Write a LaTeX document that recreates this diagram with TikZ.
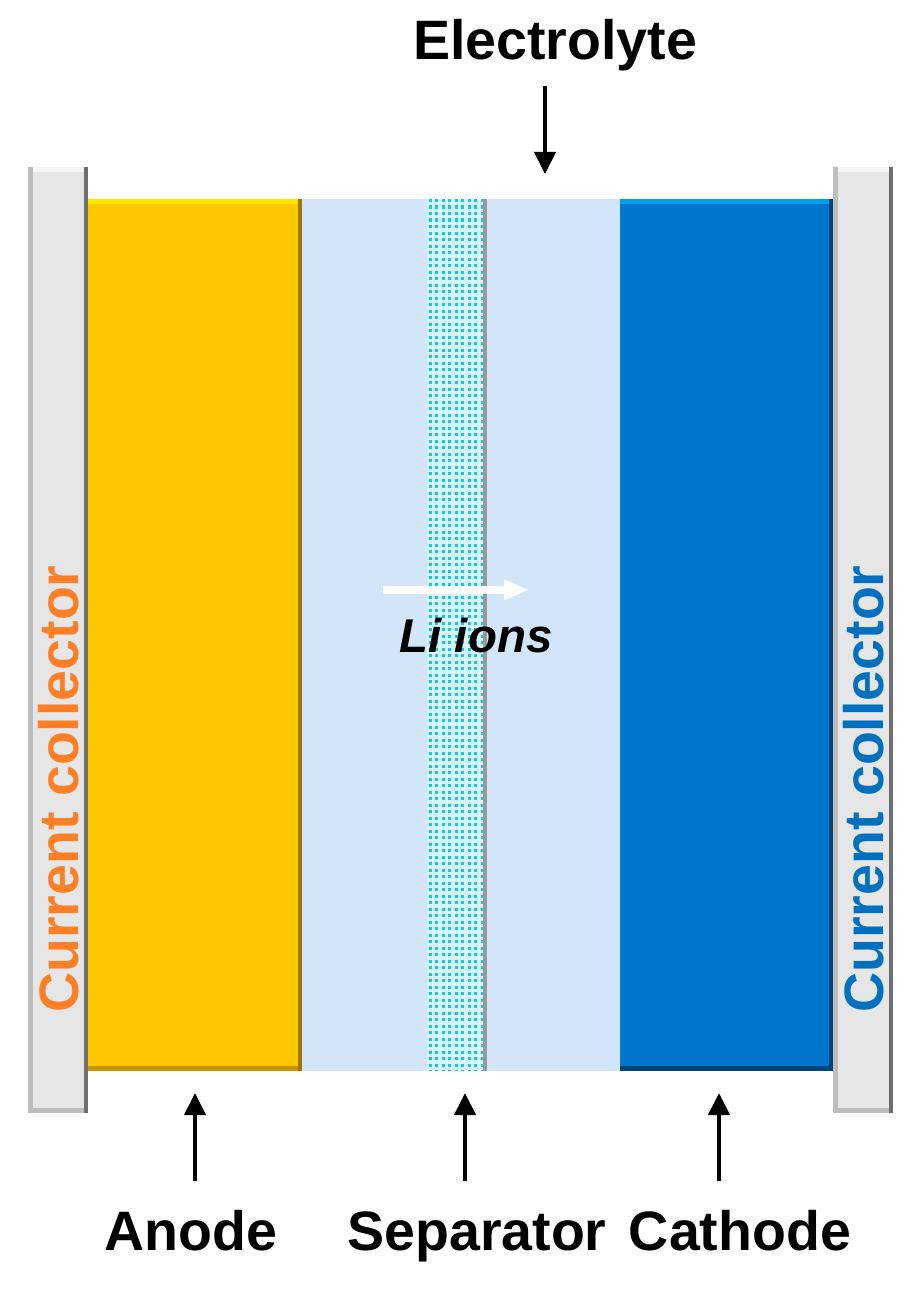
\documentclass[tikz,border=0pt]{standalone}
\usepackage{fontspec}
\setmainfont{Liberation Sans}
\usetikzlibrary{arrows.meta}
\definecolor{collfill}{HTML}{E6E6E6}
\definecolor{collleft}{HTML}{BDBDBD}
\definecolor{collright}{HTML}{6E6E6E}
\definecolor{anodefill}{HTML}{FFC800}
\definecolor{anodetop}{HTML}{FFE800}
\definecolor{anodedark}{HTML}{C89200}
\definecolor{elyte}{HTML}{D3E5F9}
\definecolor{sepbg}{HTML}{D8F4FC}
\definecolor{sepdot}{HTML}{10C8F0}
\definecolor{cathfill}{HTML}{0077CC}
\definecolor{cathtop}{HTML}{00A0EE}
\definecolor{cathdark}{HTML}{00457A}
\definecolor{orangetxt}{HTML}{FF7F27}
\definecolor{bluetxt}{HTML}{0070C0}
\tikzset{
  lbl/.style={font=\fontsize{31.6}{36}\selectfont\bfseries, text=black, inner sep=0pt},
  colltxt/.style={font=\fontsize{31.6}{36}\selectfont\bfseries, inner sep=0pt, rotate=90},
  blackarrow/.style={line width=2.3pt, -{Triangle[width=0.42cm,length=0.44cm]}},
  whitearrow/.style={white, line width=4pt, -{Triangle[width=0.38cm,length=0.5cm]}},
}
\begin{document}
\begin{tikzpicture}[x=0.02cm,y=-0.02cm]
\useasboundingbox (0,0) rectangle (920,1290);
% left current collector
\fill[collfill] (28,167) rectangle (88,1113);
\fill[collleft] (28,167) rectangle (33,1113);
\fill[collright] (84,167) rectangle (88,1113);
\fill[white!92!gray] (33,167) rectangle (84,172);
\fill[collleft] (33,1108) rectangle (84,1113);
% right current collector
\fill[collfill] (833,167) rectangle (893,1113);
\fill[collleft] (833,167) rectangle (838,1113);
\fill[collright] (889,167) rectangle (893,1113);
\fill[white!92!gray] (838,167) rectangle (889,172);
\fill[collleft] (838,1108) rectangle (889,1113);
% electrolyte
\fill[elyte] (302,199) rectangle (620,1071);
% anode
\fill[anodefill] (88,199) rectangle (302,1071);
\fill[anodetop] (88,199) rectangle (302,204);
\fill[anodedark] (88,1066) rectangle (302,1071);
\fill[anodedark!80!black] (298,199) rectangle (302,1071);
% cathode
\fill[cathfill] (620,199) rectangle (833,1071);
\fill[cathtop] (620,199) rectangle (833,204);
\fill[cathdark] (620,1066) rectangle (833,1071);
\fill[cathdark] (829,199) rectangle (833,1071);
% separator
\fill[sepbg] (427,199) rectangle (487,1071);
\begin{scope}
\clip (427,199) rectangle (483,1071);
\foreach \xx in {430,436.5,...,483}{
  \draw[sepdot, line width=1.7pt, dash pattern=on 1.8pt off 1.9pt] (\xx,199) -- (\xx,1071);
}
\end{scope}
\fill[gray!80] (483,199) rectangle (487,1071);
% white Li-ion arrow
\coordinate (wa) at (383,590);
\coordinate (wb) at (529,590);
\draw[whitearrow] (wa) -- (wb);
\node[font=\fontsize{27}{32}\selectfont\bfseries\itshape, inner sep=0pt, anchor=base] (li) at (476,652) {Li ions};
% collector labels
\node[colltxt, text=orangetxt] (ccl) at (59,789) {Current collector};
\node[colltxt, text=bluetxt] (ccr) at (864,789) {Current collector};
% top label
\node[lbl, anchor=base] (elabel) at (555,60) {Electrolyte};
\coordinate (etip) at (545,174);
\coordinate (estart) at (545,86);
\draw[blackarrow] (estart) -- (etip);
% bottom labels
\node[lbl, anchor=base] (anode) at (191,1250) {Anode};
\node[lbl, anchor=base] (sep) at (477,1250) {Separator};
\node[lbl, anchor=base] (cath) at (740,1250) {Cathode};
\coordinate (a1) at (195,1181);
\coordinate (a2) at (195,1093);
\coordinate (s1) at (465,1181);
\coordinate (s2) at (465,1093);
\coordinate (c1) at (719,1181);
\coordinate (c2) at (719,1093);
\draw[blackarrow] (a1) -- (a2);
\draw[blackarrow] (s1) -- (s2);
\draw[blackarrow] (c1) -- (c2);
\end{tikzpicture}
\end{document}
